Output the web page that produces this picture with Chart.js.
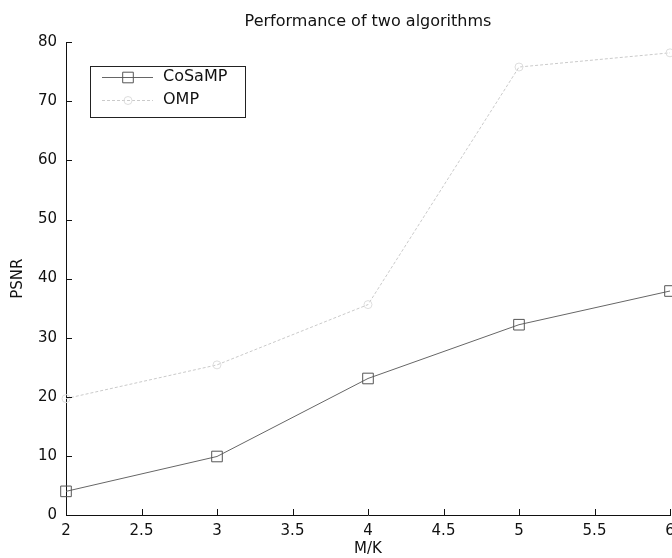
<!DOCTYPE html>
<html>
<head>
<meta charset="utf-8">
<title>Performance of two algorithms</title>
<script src="https://cdn.jsdelivr.net/npm/chart.js@4.4.0/dist/chart.umd.min.js"></script>
<style>
  html, body { margin: 0; padding: 0; background: #fff; }
  canvas { display: block; }
</style>
</head>
<body>
<canvas id="perfChart" width="672" height="558"></canvas>
<script>
// measurement ratio M/K and the PSNR reached by each algorithm
const ratios = [2, 3, 4, 5, 6];
const cosampPsnr = [4.0, 9.9, 23.1, 32.2, 37.9];
const ompPsnr = [19.7, 25.4, 35.6, 75.8, 78.2];

const xTicks = [2, 2.5, 3, 3.5, 4, 4.5, 5, 5.5, 6];
const yTicks = [0, 10, 20, 30, 40, 50, 60, 70, 80];

const FONT = "'DejaVu Sans', sans-serif";
Chart.defaults.font.family = FONT;
Chart.defaults.color = "#111";

function toPoints(ys) {
    return ratios.map((x, i) => ({ x: x, y: ys[i] }));
}

// matlab style ticks pointing into the plot
const innerTicks = {
    id: "innerTicks",
    afterDraw(chart) {
        const ctx = chart.ctx;
        const area = chart.chartArea;
        const xs = chart.scales.x, ys = chart.scales.y;
        ctx.save();
        ctx.strokeStyle = "#111";
        ctx.lineWidth = 1;
        ctx.beginPath();
        xTicks.forEach(v => {
            const px = Math.round(xs.getPixelForValue(v)) + 0.5;
            ctx.moveTo(px, area.bottom);
            ctx.lineTo(px, area.bottom - 6);
        });
        yTicks.forEach(v => {
            const py = Math.round(ys.getPixelForValue(v)) + 0.5;
            ctx.moveTo(area.left, py);
            ctx.lineTo(area.left + 6, py);
        });
        ctx.stroke();
        ctx.restore();
    }
};

// boxed legend in the upper left corner of the axes
const boxLegend = {
    id: "boxLegend",
    afterDraw(chart) {
        const ctx = chart.ctx;
        const left = 90, top = 66, right = 245, bottom = 117;
        const rows = [77, 100];
        ctx.save();
        ctx.fillStyle = "#fff";
        ctx.fillRect(left, top, right - left, bottom - top);
        ctx.strokeStyle = "#222";
        ctx.lineWidth = 1;
        ctx.strokeRect(left + 0.5, top + 0.5, right - left, bottom - top);
        chart.data.datasets.forEach((ds, i) => {
            const y = rows[i] + 0.5;
            ctx.save();
            ctx.strokeStyle = ds.borderColor;
            ctx.lineWidth = ds.borderWidth;
            ctx.setLineDash(ds.borderDash || []);
            ctx.beginPath();
            ctx.moveTo(102, y);
            ctx.lineTo(153, y);
            ctx.stroke();
            ctx.restore();
            ctx.save();
            ctx.strokeStyle = ds.pointBorderColor;
            ctx.fillStyle = "rgba(0,0,0,0)";
            Chart.helpers.drawPoint(ctx, {
                pointStyle: ds.pointStyle,
                radius: ds.pointRadius,
                rotation: 0,
                borderWidth: 1
            }, 128, y);
            ctx.restore();
            ctx.fillStyle = "#111";
            ctx.font = "16px " + FONT;
            ctx.textAlign = "left";
            ctx.textBaseline = "middle";
            ctx.fillText(ds.label, 163, rows[i]);
        });
        ctx.restore();
    }
};

new Chart(document.getElementById("perfChart"), {
    type: "line",
    data: {
        datasets: [
            {
                label: "CoSaMP",
                data: toPoints(cosampPsnr),
                borderColor: "#666",
                borderWidth: 1,
                pointStyle: "rect",
                pointRadius: 7.5,
                pointBorderColor: "#555",
                pointBackgroundColor: "rgba(0,0,0,0)",
                pointBorderWidth: 1
            },
            {
                label: "OMP",
                data: toPoints(ompPsnr),
                borderColor: "#cacaca",
                borderWidth: 1,
                borderDash: [3, 2],
                pointStyle: "circle",
                pointRadius: 4,
                pointBorderColor: "#dedede",
                pointBackgroundColor: "rgba(0,0,0,0)",
                pointBorderWidth: 1
            }
        ]
    },
    options: {
        responsive: false,
        animation: false,
        layout: { autoPadding: false, padding: { left: 0, right: 2, top: 0, bottom: 0 } },
        elements: { line: { tension: 0 } },
        datasets: { line: { clip: false } },
        plugins: {
            legend: { display: false },
            tooltip: { enabled: false },
            title: {
                display: true,
                fullSize: false,
                text: "Performance of two algorithms",
                font: { size: 16, weight: "normal" },
                color: "#111",
                padding: { top: 12, bottom: 11 }
            }
        },
        scales: {
            x: {
                type: "linear",
                min: 2,
                max: 6,
                grid: { drawOnChartArea: false, drawTicks: false },
                border: { display: true, color: "#111", width: 1 },
                afterBuildTicks: scale => { scale.ticks = xTicks.map(v => ({ value: v })); },
                ticks: {
                    padding: 7,
                    font: { size: 15 },
                    color: "#111",
                    autoSkip: false,
                    maxRotation: 0,
                    callback: v => String(v)
                },
                title: { display: true, text: "M/K", font: { size: 15 }, color: "#111", padding: { top: 0, bottom: 0 } },
                afterFit: scale => {
                    scale.height = 43;
                    scale.paddingLeft = 0;
                    scale.paddingRight = 0;
                }
            },
            y: {
                type: "linear",
                min: 0,
                max: 80,
                grid: { drawOnChartArea: false, drawTicks: false },
                border: { display: true, color: "#111", width: 1 },
                afterBuildTicks: scale => { scale.ticks = yTicks.map(v => ({ value: v })); },
                ticks: { padding: 9, font: { size: 15 }, color: "#111", callback: v => String(v) },
                title: { display: true, text: "PSNR", font: { size: 15 }, color: "#111", padding: { top: 9, bottom: 0 } },
                afterFit: scale => {
                    scale.width = 66;
                    scale.paddingTop = 0;
                    scale.paddingBottom = 0;
                }
            }
        }
    },
    plugins: [innerTicks, boxLegend]
});
</script>
</body>
</html>
